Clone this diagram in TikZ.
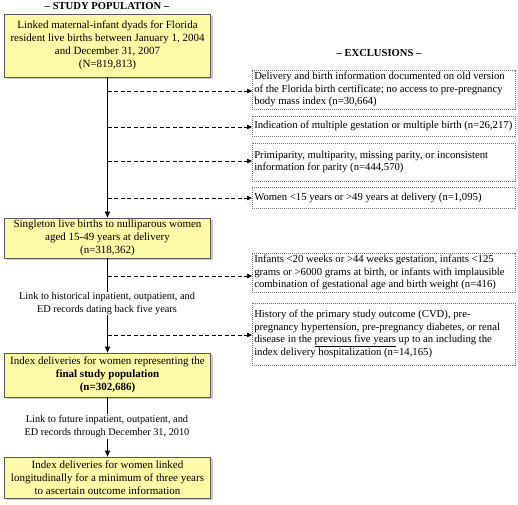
\documentclass[tikz,border=0pt]{standalone}
\usepackage{fontspec}
\setmainfont{Liberation Serif}
\usetikzlibrary{arrows.meta,shadows}
\begin{document}
\begin{tikzpicture}[x=1pt,y=-1pt,
  every node/.style={font=\fontsize{10.7}{12.6}\selectfont},
  popbox/.style={draw=black!65, line width=0.6pt, fill={rgb,255:red,255;green,250;blue,168},
    minimum width=206pt, text width=206pt, align=flush center, inner sep=0pt,
    font=\fontsize{11}{13}\selectfont,
    drop shadow={shadow xshift=2.2pt, shadow yshift=-2.2pt, fill=black!35, opacity=0.6}},
  exbox/.style={draw=black!55, line width=0.5pt, dash pattern=on 1pt off 1pt,
    minimum width=263pt, text width=259pt, align=flush left, inner sep=2pt, anchor=west},
  title/.style={font=\fontsize{10.6}{12.6}\selectfont\bfseries},
  flow/.style={line width=0.8pt, -{Triangle[length=6pt,width=5pt]}},
  exarrow/.style={line width=0.6pt, dash pattern=on 4pt off 2.5pt, -{Triangle[length=5pt,width=4.5pt]}},
  linklabel/.style={fill=white, align=flush center, inner sep=1pt, font=\fontsize{10.3}{12.6}\selectfont}
]
\useasboundingbox (0,0) rectangle (518,504);

\node[title] (t1) at (107,6.5) {– STUDY POPULATION –};
\node[title] (t2) at (379,53) {– EXCLUSIONS –};

\node[popbox, minimum height=63pt] (b1) at (107.5,45.5) {Linked maternal-infant dyads for Florida\\resident live births between January 1, 2004\\and December 31, 2007\\(N=819,813)};
\node[popbox, minimum height=40pt] (b2) at (107.5,238) {Singleton live births to nulliparous women\\aged 15-49 years at delivery\\(n=318,362)};
\node[popbox, minimum height=44pt] (b3) at (107.5,375) {Index deliveries for women representing the\\\textbf{final study population}\\\textbf{(n=302,686)}};
\node[popbox, minimum height=41pt] (b4) at (107.5,477.5) {Index deliveries for women linked\\longitudinally for a minimum of three years\\to ascertain outcome information};

\node[exbox, minimum height=37pt] (e1) at (252,89.5) {Delivery and birth information documented on old version\\of the Florida birth certificate; no access to pre-pregnancy\\body mass index (n=30,664)};
\node[exbox, minimum height=20pt] (e2) at (252,126) {Indication of multiple gestation or multiple birth (n=26,217)};
\node[exbox, minimum height=38pt] (e3) at (252,162) {Primiparity, multiparity, missing parity, or inconsistent\\information for parity (n=444,570)};
\node[exbox, minimum height=21pt] (e4) at (252,197.5) {Women <15 years or >49 years at delivery (n=1,095)};
\node[exbox, minimum height=35pt] (e5) at (252,272.5) {Infants <20 weeks or >44 weeks gestation, infants <125\\grams or >6000 grams at birth, or infants with implausible\\combination of gestational age and birth weight (n=416)};
\node[exbox, minimum height=62pt] (e6) at (252,334) {History of the primary study outcome (CVD), pre-\\pregnancy hypertension, pre-pregnancy diabetes, or renal\\disease in the \underline{previous five years} up to an including the\\index delivery hospitalization (n=14,165)};

% main flow
\draw[flow] (b1.south) -- (b2.north);
\draw[flow] (b2.south) -- (b3.north);
\draw[flow] (b3.south) -- (b4.north);

\node[linklabel] (l1) at (107,303.5) {Link to historical inpatient, outpatient, and\\ED records dating back five years};
\node[linklabel] (l2) at (107,426.5) {Link to future inpatient, outpatient, and\\ED records through December 31, 2010};

% exclusion arrows
\coordinate (c1) at (107.5,91);
\coordinate (c2) at (107.5,127);
\coordinate (c3) at (107.5,161);
\coordinate (c4) at (107.5,198);
\coordinate (c5) at (107.5,276);
\coordinate (c6) at (107.5,335);
\draw[exarrow] (c1) -- (c1 -| e1.west);
\draw[exarrow] (c2) -- (c2 -| e2.west);
\draw[exarrow] (c3) -- (c3 -| e3.west);
\draw[exarrow] (c4) -- (c4 -| e4.west);
\draw[exarrow] (c5) -- (c5 -| e5.west);
\draw[exarrow] (c6) -- (c6 -| e6.west);
\end{tikzpicture}
\end{document}
